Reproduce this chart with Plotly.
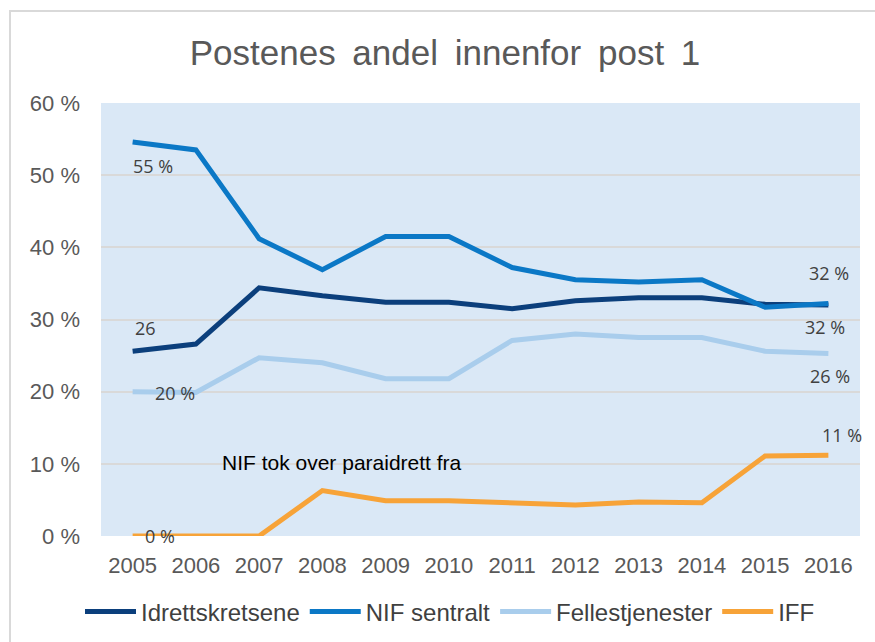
import plotly.graph_objects as go

years = [2005, 2006, 2007, 2008, 2009, 2010, 2011, 2012, 2013, 2014, 2015, 2016]
idrettskretsene = [25.6, 26.6, 34.4, 33.3, 32.4, 32.4, 31.5, 32.6, 33.0, 33.0, 32.1, 32.0]
nif_sentralt = [54.6, 53.5, 41.2, 36.9, 41.5, 41.5, 37.2, 35.5, 35.2, 35.5, 31.7, 32.2]
fellestjenester = [20.0, 19.9, 24.7, 24.0, 21.8, 21.8, 27.1, 28.0, 27.5, 27.5, 25.6, 25.3]
iff = [0.0, 0.0, 0.0, 6.3, 4.9, 4.9, 4.6, 4.3, 4.7, 4.6, 11.1, 11.2]

series_names = ["Idrettskretsene", "NIF sentralt", "Fellestjenester", "IFF"]
series_values = [idrettskretsene, nif_sentralt, fellestjenester, iff]
colors = ["#0B3F7C", "#0B78C6", "#A9CDEC", "#F7A338"]

y_ticks = [0, 10, 20, 30, 40, 50, 60]
y_tick_labels = ["0 %", "10 %", "20 %", "30 %", "40 %", "50 %", "60 %"]

# data labels: (series index, year index, text, x shift px, y shift px)
labels = [
    (1, 0, "55 %", 20, -24),
    (0, 0, "26", 13, 23),
    (2, 0, "20 %", 42, -1),
    (3, 0, "0 %", 27, 0),
    (1, 11, "32 %", 1, 31),
    (0, 11, "32 %", -3, -22),
    (2, 11, "26 %", 2, -23),
    (3, 11, "11 %", 14, 20),
]
note_text = "NIF tok over paraidrett fra"
note_x, note_y = 2008.31, 10.2

fig = go.Figure()
for name, vals, col in zip(series_names, series_values, colors):
    fig.add_trace(go.Scatter(
        x=years, y=vals, name=name, mode="lines",
        line=dict(color=col, width=5),
    ))

for si, yi, txt, dx, dy in labels:
    fig.add_annotation(
        x=years[yi], y=series_values[si][yi], text=txt, showarrow=False,
        xshift=dx, yshift=dy,
        font=dict(family="Open Sans, Liberation Sans, sans-serif", size=18, color="#404040"),
    )

fig.add_annotation(
    x=note_x, y=note_y, text=note_text, showarrow=False, xanchor="center",
    font=dict(family="Liberation Sans, Arial, sans-serif", size=21, color="#000000"),
)

W, H = 875, 642
ml, mr, mt, mb = 101, 15, 103, 106
pw, ph = W - ml - mr, H - mt - mb

def px_x(p):
    return (p - ml) / pw

def px_y(p):
    return 1 - (p - mt) / ph

fig.add_shape(
    type="rect", xref="paper", yref="paper",
    x0=px_x(10), x1=px_x(890), y0=px_y(11), y1=px_y(660),
    line=dict(color="#D9D9D9", width=2), fillcolor="rgba(0,0,0,0)", layer="below",
)

title_text = "Postenes\u2009 andel\u2009 innenfor\u2009 post\u2009 1"

fig.update_layout(
    width=W, height=H,
    margin=dict(l=ml, r=mr, t=mt, b=mb, autoexpand=False),
    paper_bgcolor="white",
    plot_bgcolor="#DAE8F6",
    title=dict(
        text=title_text,
        x=445 / W, xref="container", xanchor="center",
        y=1 - 53 / H, yref="container", yanchor="middle",
        font=dict(family="Liberation Sans, Arial, sans-serif", size=35, color="#595959"),
    ),
    font=dict(family="Liberation Sans, Arial, sans-serif", color="#595959"),
    showlegend=True,
    legend=dict(
        orientation="h", x=(450 - ml) / pw, xanchor="center", y=px_y(612), yanchor="middle",
        font=dict(size=24, color="#404040"), itemwidth=51,
        traceorder="normal", bgcolor="rgba(0,0,0,0)",
    ),
    xaxis=dict(
        range=[2004.5, 2016.5], tickmode="array", tickvals=years,
        ticktext=[str(y) for y in years], showgrid=False, zeroline=False,
        showline=False, ticks="", tickfont=dict(size=22, color="#595959"),
        ticklabelstandoff=14,
    ),
    yaxis=dict(
        range=[0, 60], tickmode="array", tickvals=y_ticks, ticktext=y_tick_labels,
        showgrid=True, gridcolor="#D9D9D9", gridwidth=2, zeroline=False,
        showline=False, ticks="", ticklabelstandoff=20,
        tickfont=dict(size=22, color="#595959"),
    ),
)

fig.write_html("out.html", post_script="document.body.style.margin='0px';",
               config={"displayModeBar": False, "staticPlot": True})
